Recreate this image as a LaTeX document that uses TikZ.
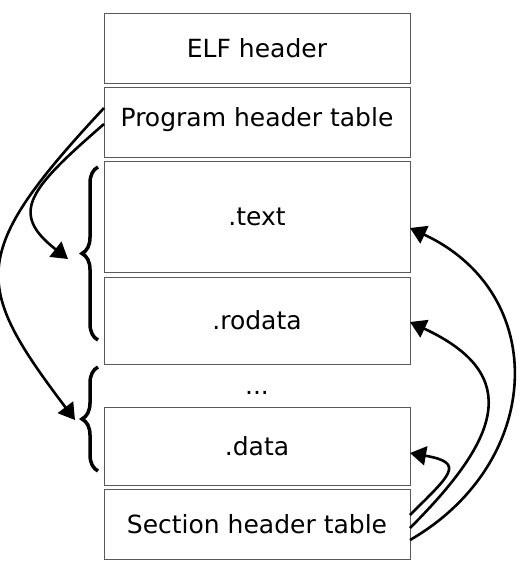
\documentclass[tikz,border=0pt]{standalone}
\usepackage{fontspec}
\setmainfont{DejaVu Sans}
\usetikzlibrary{positioning,arrows.meta,decorations.pathreplacing}

\begin{document}
\begin{tikzpicture}[x=1pt,y=1pt,>={Triangle[length=16pt,width=19pt]},
  block/.style={draw=black!65,line width=1pt,rectangle,minimum width=306pt,inner sep=0pt,outer sep=0pt,
    text height=18.25pt,text depth=0pt,font=\fontsize{25}{30}\selectfont},
  curly/.style={decorate,decoration={brace,amplitude=16pt},line width=3.5pt},
  link/.style={->,line width=2.6pt}]
\useasboundingbox (0,0) rectangle (520,-576);
\node[block,minimum height=70pt] (elf) at (257,-48) {ELF header};
\node[block,minimum height=70pt,text depth=9pt,below=4pt of elf] (pht) {Program header table};
\node[block,minimum height=111pt,below=4pt of pht] (textsec) {.text};
\node[block,minimum height=87pt,below=5pt of textsec] (rodata) {.rodata};
\node[block,draw=none,minimum height=43pt,below=0pt of rodata] (dots) {...};
\node[block,minimum height=78pt,below=0pt of dots] (datasec) {.data};
\node[block,minimum height=70pt,below=4pt of datasec] (sht) {Section header table};
% segments
\draw[curly] (98,-340) -- (98,-167);
\draw[curly] (98,-471) -- (98,-367);
\coordinate (textin) at (68,-259);
\coordinate (datain) at (75,-420);
\draw[link] ([yshift=14pt]pht.west) to[out=227,in=127,out distance=200pt,in distance=170pt] (datain);
\draw[link] ([yshift=-2pt]pht.west) to[out=221,in=142,out distance=100pt,in distance=75pt] (textin);
% sections
\draw[link] ([yshift=-16pt]sht.east) to[out=30,in=-25,distance=155pt] ([yshift=-11.5pt]textsec.east);
\draw[link] ([yshift=-4pt]sht.east) to[out=45,in=-25,distance=126pt] ([yshift=-1.5pt]rodata.east);
\draw[link] ([yshift=9pt]sht.east) to[out=45,in=-10,distance=57pt] ([yshift=-7pt]datasec.east);
\end{tikzpicture}
\end{document}
